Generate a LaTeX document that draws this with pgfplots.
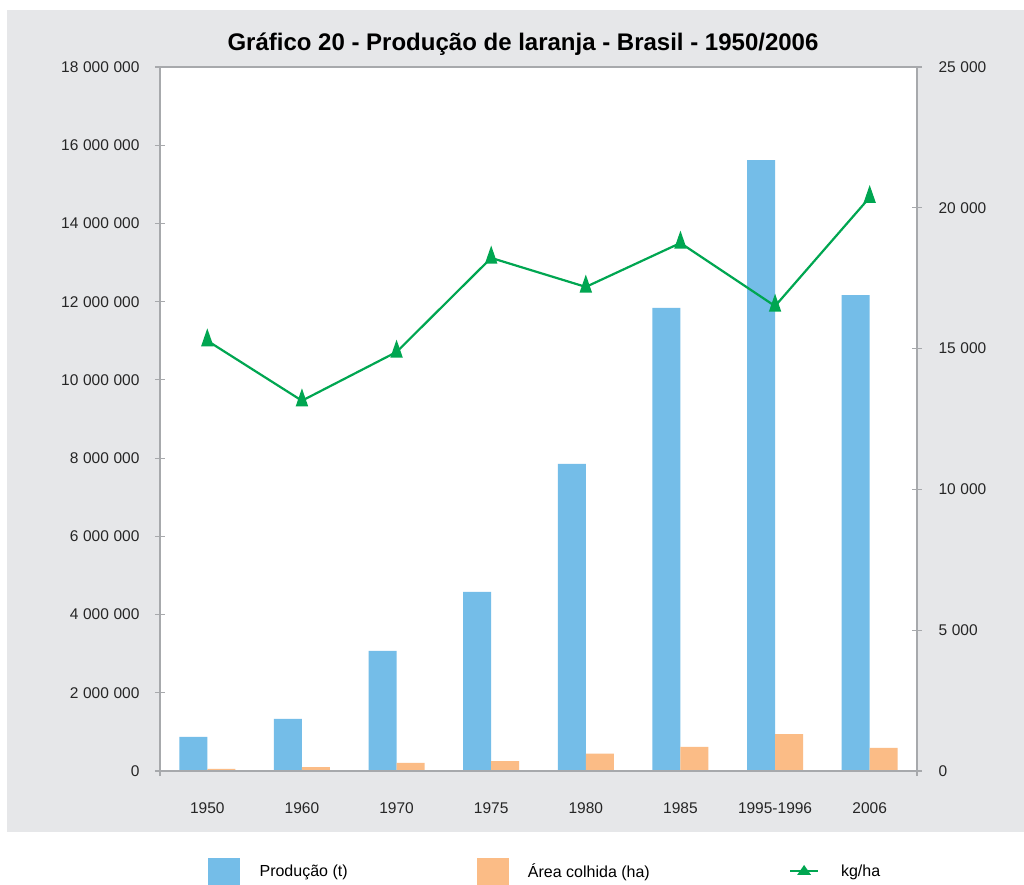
\documentclass[border=0pt]{standalone}
\usepackage{pgfplots}
\pgfplotsset{compat=1.18}
\usepackage{fontspec}
\setmainfont{Liberation Sans}
\definecolor{bgray}{HTML}{E6E7E9}
\definecolor{axgray}{HTML}{A7A9AC}
\definecolor{barblue}{HTML}{74BDE8}
\definecolor{barorange}{HTML}{FBBC86}
\definecolor{lgreen}{HTML}{00A651}

\pgfplotstableread{
x prod area
0 870000 56000
1 1330000 100000
2 3070000 205000
3 4580000 250000
4 7850000 445000
5 11840000 620000
6 15620000 946000
7 12170000 590000
}\bars

\pgfplotstableread{
x kgha
0 15280
1 13150
2 14880
3 18220
4 17190
5 18750
6 16510
7 20370
}\yield

\begin{document}
\begin{tikzpicture}[x=1pt,y=1pt]
\useasboundingbox (-160,-113) rectangle (864,771);
\fill[bgray] (-153,-61) rectangle (864,761);
\node[font=\fontsize{24}{28}\selectfont\bfseries, anchor=base, inner sep=0pt] at (363,720) {Gráfico 20 - Produção de laranja - Brasil - 1950/2006};

\pgfplotsset{common/.style={
  scale only axis, width=757pt, height=704pt,
  at={(0pt,0pt)}, anchor=south west,
  xmin=-0.5, xmax=7.5,
  axis line style={draw=axgray, line width=1.4pt},
  tick style={draw=axgray, line width=1.2pt},
  tick align=center,
  major tick length=10pt,
  scaled y ticks=false,
  /pgf/number format/fixed,
  /pgf/number format/precision=0,
  /pgf/number format/assume math mode=true,
  /pgf/number format/1000 sep={\hspace{0.3em}},
  ticklabel style={font=\fontsize{15.5}{18}\selectfont, text=black!85},
  axis background/.style={fill=white},
}}

\begin{axis}[common,
  ymin=0, ymax=18000000,
  ytick distance=2000000,
  ytick pos=left,
  xtick={0,...,7},
  xticklabels={1950,1960,1970,1975,1980,1985,1995-1996,2006},
  x tick style={draw=none},
  xtick pos=bottom,
  xticklabel style={yshift=-18pt},
  yticklabel style={xshift=-12pt},
  ybar=0pt, bar width=28pt,
]
\addplot[fill=barblue, draw=none] table[x=x, y=prod] {\bars};
\addplot[fill=barorange, draw=none] table[x=x, y=area] {\bars};
\end{axis}

\begin{axis}[common,
  axis background/.style={},
  ymin=0, ymax=25000,
  ytick distance=5000,
  ytick pos=right,
  xtick={-0.5,7.5},
  xticklabels={},
  xtick pos=bottom,
  x tick style={draw=axgray, line width=1.2pt},
  yticklabel style={xshift=13pt},
  legend style={at={(0.0634,-0.142)}, anchor=west, draw=none, fill=none,
    inner sep=0pt, legend columns=3,
    font=\fontsize{16}{19}\selectfont,
    nodes={inner sep=0pt, anchor=west},
    /tikz/every odd column/.append style={column sep=20pt}},
]
\addlegendimage{legend image code/.code={\fill[barblue] (0pt,-13pt) rectangle (31pt,13pt);}}
\addlegendentry{\makebox[217pt][l]{Produção (t)}}
\addlegendimage{legend image code/.code={\fill[barorange] (0pt,-13pt) rectangle (31pt,13pt);}}
\addlegendentry{\makebox[261pt][l]{Área colhida (ha)}}
\addplot[lgreen, line width=2.2pt, mark=triangle*, mark size=9pt,
  mark options={xscale=0.6, solid},
  legend image code/.code={\draw[lgreen, line width=2.2pt] (0pt,0pt) -- (28pt,0pt);
    \path[draw=none, fill=none] (0pt,-13pt) rectangle (31pt,13pt);
    \fill[lgreen, draw=none] (14pt,6pt) -- (21pt,-4pt) -- (7pt,-4pt) -- cycle;}]
  table[x=x, y=kgha] {\yield};
\addlegendentry{kg/ha}
\end{axis}
\end{tikzpicture}
\end{document}
